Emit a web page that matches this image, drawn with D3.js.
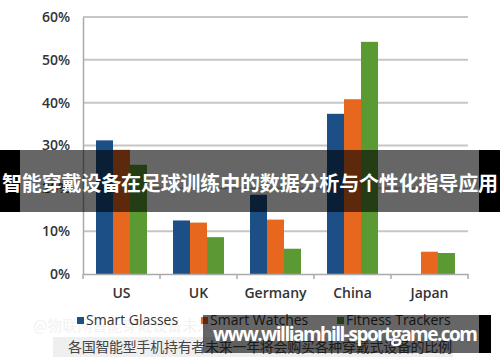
<!DOCTYPE html>
<html><head><meta charset="utf-8">
<script src="https://cdn.jsdelivr.net/npm/d3@7"></script>
<style>body{margin:0;background:#fff}svg{display:block}</style>
</head><body><svg id="c" width="500" height="362"></svg>
<script>
const categories = ["US","UK","Germany","China","Japan"];
const series = ["Smart Glasses","Smart Watches","Fitness Trackers"];
const smartGlasses = [31.2, 12.5, 18.5, 37.4, 0];
const smartWatches = [29.0, 12.0, 12.7, 40.8, 5.2];
const fitnessTrackers = [25.5, 8.6, 5.9, 54.2, 4.9];
const yTicks = [0,10,20,30,40,50,60];
const colors = ["#1b4f86","#e8671e","#5b9a33"];
const titleText = "智能穿戴设备在足球训练中的数据分析与个性化指导应用";
const captionText = "各国智能型手机持有者未来一年将会购买各种穿戴式设备的比例";
const watermarkText = "www.williamhill-sportgame.com";

const values = [smartGlasses, smartWatches, fitnessTrackers];
const svg = d3.select("#c");
const font = "'Open Sans', 'DejaVu Sans', sans-serif";

const x0 = d3.scaleBand().domain(categories).range([83,468]).padding(0);
const x1 = d3.scaleBand().domain(series).range([13, x0.bandwidth()-13]).padding(0);
const y = d3.scaleLinear().domain([0,60]).range([274,17]);

// gridlines
svg.append("g").selectAll("line").data(yTicks.filter(d=>d>0)).join("line")
  .attr("x1",83).attr("x2",468).attr("y1",d=>y(d)).attr("y2",d=>y(d))
  .attr("stroke","#c6c6c6").attr("stroke-width",2);

// y axis
const ya = svg.append("g").attr("transform","translate(83,0)")
  .call(d3.axisLeft(y).tickValues(yTicks).tickFormat(d=>d+"%").tickSize(0).tickPadding(13));
ya.select(".domain").attr("stroke","#aaa").attr("stroke-width",1.5);
ya.selectAll("text").attr("font-family",font).attr("font-size",14).attr("font-weight",600).attr("fill","#333");

// bars
const g = svg.append("g");
categories.forEach((c,ci)=>{
  series.forEach((s,si)=>{
    const v = values[si][ci];
    if (v<=0) return;
    g.append("rect").attr("x",x0(c)+x1(s)).attr("width",x1.bandwidth())
      .attr("y",y(v)).attr("height",y(0)-y(v)).attr("fill",colors[si]);
  });
});

// x axis
const xa = svg.append("g").attr("transform","translate(0,274)")
  .call(d3.axisBottom(x0).tickSize(0).tickPadding(14));
xa.select(".domain").attr("stroke","#aaa").attr("stroke-width",1.5);
xa.selectAll("text").attr("font-family",font).attr("font-size",14).attr("font-weight",600).attr("fill","#333");
const bounds = categories.map(c=>x0(c)).concat([x0.range()[1]]);
svg.append("g").selectAll("line").data(bounds).join("line")
  .attr("x1",d=>d).attr("x2",d=>d).attr("y1",274).attr("y2",279)
  .attr("stroke","#aaa").attr("stroke-width",1.5);

// faint watermark
svg.append("text").attr("x",33).attr("y",331).attr("font-family","'Noto Sans CJK SC'")
  .attr("font-size",15).attr("fill","#f2f2f2").text("@物联网智能穿戴设备未来");

// legend
const legX = [77, 201, 337];
series.forEach((s,i)=>{
  svg.append("rect").attr("x",legX[i]).attr("y",317).attr("width",7).attr("height",7).attr("fill",colors[i]);
  svg.append("text").attr("x",legX[i]+9).attr("y",325).attr("font-family",font)
    .attr("font-size",14).attr("fill","#333").text(s);
});

// caption box
svg.append("rect").attr("x",53).attr("y",337).attr("width",400).attr("height",20).attr("fill","#efefef");
svg.append("text").attr("x",68).attr("y",352).attr("font-family","'Noto Sans CJK SC'")
  .attr("font-size",14).attr("fill","#444").attr("textLength",384).text(captionText);

// top banner
svg.append("rect").attr("x",0).attr("y",150).attr("width",500).attr("height",62).attr("fill","rgba(0,0,0,0.6)");
svg.append("rect").attr("x",0).attr("y",150).attr("width",20).attr("height",62).attr("fill","#000");
svg.append("rect").attr("x",479).attr("y",150).attr("width",21).attr("height",62).attr("fill","#000");
svg.append("text").attr("x",250).attr("y",191).attr("text-anchor","middle")
  .attr("font-family","'Noto Sans CJK SC'").attr("font-weight","bold").attr("font-size",20)
  .attr("fill","#fff").attr("textLength",496).text(titleText);

// bottom watermark
svg.append("rect").attr("x",203).attr("y",315).attr("width",276).attr("height",38).attr("fill","rgba(0,0,0,0.6)");
svg.append("rect").attr("x",479).attr("y",315).attr("width",12).attr("height",38).attr("fill","#000");
svg.append("text").attr("x",213).attr("y",341).attr("font-family","'Open Sans', sans-serif")
  .attr("font-weight","bold").attr("font-size",19).attr("fill","#fff")
  .attr("textLength",265).text(watermarkText);
</script></body></html>
